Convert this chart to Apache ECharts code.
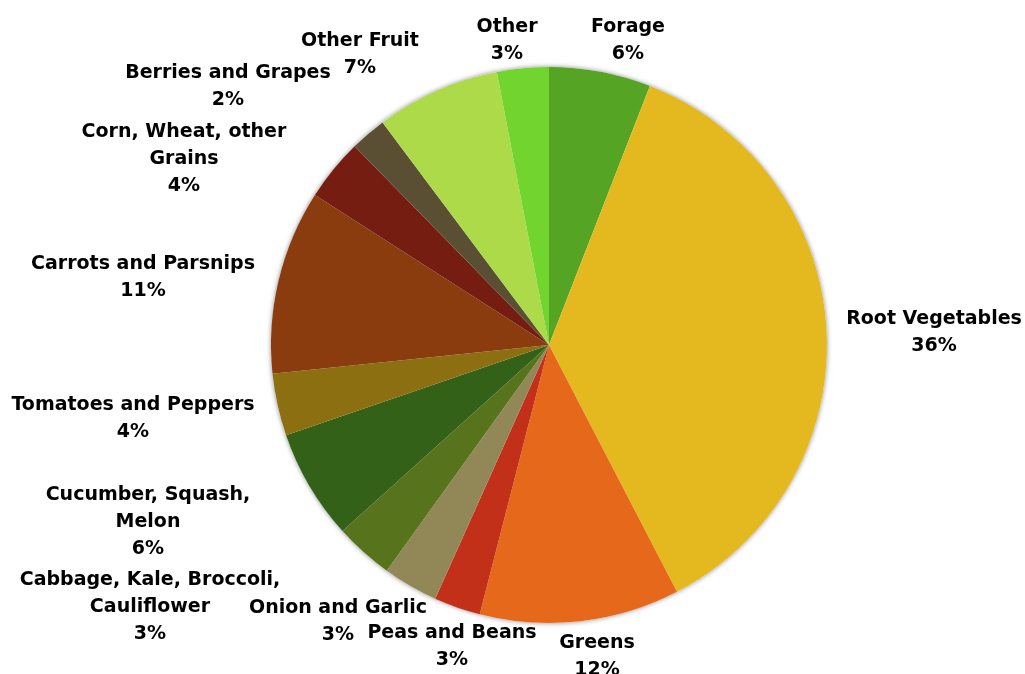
<!DOCTYPE html>
<html>
<head>
<meta charset="utf-8">
<script src="https://cdn.jsdelivr.net/npm/echarts@6/dist/echarts.min.js"></script>
<style>
html,body{margin:0;padding:0;background:#fff;}
#chart{width:1025px;height:674px;}
</style>
</head>
<body>
<div id="chart"></div>
<script>
const categories = [
  'Forage', 'Root Vegetables', 'Greens', 'Peas and Beans', 'Onion and Garlic',
  'Cabbage, Kale, Broccoli,\nCauliflower', 'Cucumber, Squash,\nMelon', 'Tomatoes and Peppers',
  'Carrots and Parsnips', 'Corn, Wheat, other\nGrains', 'Berries and Grapes', 'Other Fruit', 'Other'
];
const values = [5.9, 36.4, 11.6, 2.7, 3.2, 3.4, 6.4, 3.6, 10.7, 3.6, 2.1, 7.2, 3.0];
const colors = ['#56a424', '#e4b920', '#e6681b', '#c3301a', '#918757', '#57731b', '#326117',
  '#8b6f11', '#8a3c0e', '#761d12', '#5a4e33', '#acda48', '#72d42e'];
// label text centres (layout only)
const labelCenters = [
  [628, 41], [934, 333], [597, 657], [452, 647], [338, 622],
  [150, 607], [148, 522], [133, 419], [143, 278], [184, 159], [228, 87], [360, 55], [507, 41]
];

const chart = echarts.init(document.getElementById('chart'));
const textStyle = {
  fontFamily: 'DejaVu Sans', fontWeight: 'bold', fontSize: 19, color: '#000', lineHeight: 27,
  align: 'center', overflow: 'none'
};
chart.setOption({
  animation: false,
  series: [
    {
      type: 'pie', silent: true, center: [549, 345], radius: 278, z: 1,
      data: [{ value: 1, name: 'bg' }],
      label: { show: false }, labelLine: { show: false },
      itemStyle: { color: '#ffffff', shadowBlur: 5, shadowColor: 'rgba(0,0,0,0.45)' }
    },
    {
      type: 'pie', z: 2,
      center: [549, 345], radius: 278, startAngle: 90, clockwise: true,
      data: categories.map((c, i) => ({ name: c, value: values[i], itemStyle: { color: colors[i] } })),
      itemStyle: { borderWidth: 0 },
      label: Object.assign({
        show: true, position: 'outside', width: 400,
        formatter: p => p.name + '\n' + Math.round(p.percent) + '%'
      }, textStyle),
      labelLine: { show: false },
      labelLayout: p => ({
        x: labelCenters[p.dataIndex][0], y: labelCenters[p.dataIndex][1],
        align: 'center', verticalAlign: 'middle'
      })
    }
  ]
});
</script>
</body>
</html>
